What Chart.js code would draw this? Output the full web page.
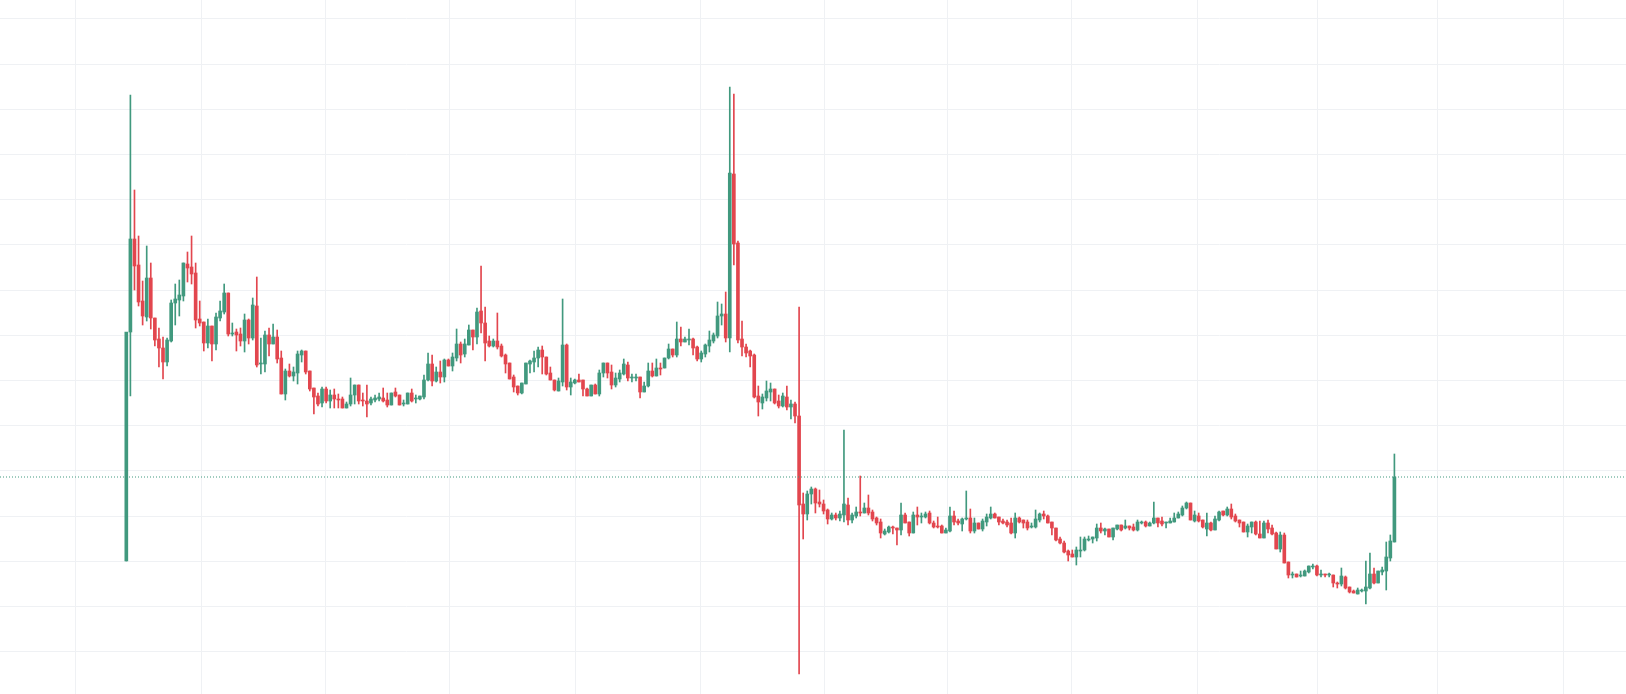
<!DOCTYPE html>
<html>
<head>
<meta charset="utf-8">
<script src="https://cdn.jsdelivr.net/npm/chart.js@4.4.3/dist/chart.umd.min.js"></script>
<style>
  html, body { margin: 0; padding: 0; background: #ffffff; }
  #wrap { width: 1626px; height: 694px; position: relative; }
</style>
</head>
<body>
<div id="wrap"><canvas id="chart"></canvas></div>
<script>
// OHLC per candle
const opens = [1.33,3.62,4.55,4.29,3.93,3.77,4.16,3.76,3.55,3.46,3.32,3.53,3.91,3.94,3.98,4.30,4.27,4.21,3.75,3.72,3.51,3.68,3.50,3.76,3.82,4.01,3.60,3.62,3.60,3.53,3.74,3.56,3.88,3.30,3.30,3.59,3.50,3.57,3.36,3.00,3.23,3.18,3.21,3.39,3.43,3.23,
  3.06,2.98,2.91,3.05,2.93,2.99,2.95,2.95,2.86,2.90,2.99,3.09,2.94,2.93,2.91,2.94,2.95,2.96,2.94,2.89,3.02,2.99,2.90,2.90,3.01,2.95,2.95,2.97,
  3.14,3.30,3.13,3.22,3.17,3.34,3.28,3.36,3.50,3.40,3.49,3.64,3.57,3.83,3.71,3.53,3.48,3.53,3.48,3.39,3.31,3.17,3.08,3.01,3.10,3.30,3.32,3.36,3.44,
  3.37,3.21,3.14,3.03,3.12,3.49,3.07,3.11,3.14,3.14,3.05,2.98,3.09,3.00,3.21,3.31,3.22,3.09,3.15,3.20,3.29,3.16,3.16,3.17,3.02,3.08,3.23,3.18,3.26,3.26,3.36,3.45,3.39,3.55,3.52,
  3.54,3.55,3.47,3.35,3.40,3.48,3.53,3.58,3.78,3.80,3.56,5.20,4.51,3.55,3.47,3.43,3.39,2.98,2.91,2.96,3.02,3.05,2.93,2.88,2.97,2.87,2.90,2.78,1.90,1.80,2.00,2.05,1.92,1.90,1.84,1.75,1.79,1.76,1.79,1.89,1.74,1.78,1.82,
  1.81,1.86,1.82,1.76,1.72,1.60,1.62,1.67,1.66,1.64,1.79,1.72,1.61,1.79,1.77,1.77,1.81,1.71,1.68,1.68,1.61,1.63,1.78,1.73,1.70,1.75,1.76,1.63,
  1.71,1.65,1.72,1.76,1.80,1.77,1.73,1.72,1.71,1.61,1.76,1.74,1.72,1.67,1.67,1.74,1.80,1.78,1.72,1.66,1.55,1.51,1.43,1.40,1.37,1.43,1.44,1.54,
  1.55,1.56,1.66,1.63,1.65,1.57,1.65,1.69,1.66,1.68,1.67,1.64,1.71,1.72,1.68,1.71,1.76,1.73,1.71,1.71,1.72,1.76,1.79,1.86,1.91,1.73,1.78,1.74,
  1.65,1.71,1.64,1.74,1.83,1.79,1.85,1.78,1.74,1.72,1.62,1.67,1.72,1.60,1.56,1.71,1.66,1.61,1.45,1.59,1.32,1.19,1.20,1.18,1.18,1.22,1.27,1.28,
  1.19,1.20,1.19,1.19,1.11,1.10,1.17,1.07,1.03,1.00,1.03,1.03,1.06,1.20,1.11,1.22,1.23,1.36,1.52];
const highs = [1.33,5.99,5.04,4.58,4.13,4.48,4.31,3.76,3.66,3.57,3.56,3.94,4.10,4.14,4.31,4.42,4.58,4.31,3.93,3.72,3.75,3.68,3.81,3.93,4.10,4.01,3.71,3.65,3.66,3.80,3.75,3.96,4.17,3.56,3.63,3.66,3.70,3.64,3.43,3.25,3.30,3.27,3.43,3.44,3.43,3.23,
  3.06,3.01,3.07,3.07,3.04,3.05,3.00,2.97,2.92,3.16,3.09,3.09,3.01,3.09,2.97,2.99,3.01,3.06,3.01,3.01,3.06,2.99,2.94,3.01,3.05,2.99,2.98,3.19,
  3.41,3.39,3.27,3.33,3.35,3.35,3.41,3.65,3.52,3.55,3.69,3.64,3.86,4.28,3.87,3.58,3.55,3.81,3.50,3.40,3.31,3.19,3.08,3.11,3.31,3.34,3.43,3.47,3.48,
  3.37,3.27,3.14,3.16,3.95,3.50,3.16,3.15,3.20,3.14,3.06,3.09,3.10,3.24,3.31,3.31,3.29,3.21,3.24,3.35,3.32,3.20,3.20,3.17,3.12,3.31,3.31,3.35,3.31,3.36,3.50,3.45,3.72,3.67,3.57,
  3.65,3.56,3.48,3.43,3.50,3.63,3.61,3.92,3.90,4.02,6.07,6.00,4.53,3.73,3.50,3.44,3.40,3.08,3.00,3.13,3.11,3.05,2.99,3.01,3.08,2.94,2.92,3.87,2.01,2.03,2.07,2.06,2.04,1.94,1.85,1.81,1.81,1.83,2.64,1.96,1.81,1.87,2.18,
  1.91,1.99,1.84,1.77,1.75,1.65,1.68,1.68,1.66,1.91,1.81,1.72,1.82,1.87,1.81,1.82,1.83,1.73,1.77,1.69,1.66,1.87,1.83,1.75,1.76,2.03,1.85,1.76,
  1.71,1.75,1.80,1.87,1.81,1.77,1.75,1.74,1.76,1.81,1.77,1.74,1.74,1.71,1.84,1.81,1.83,1.79,1.72,1.66,1.57,1.53,1.44,1.44,1.47,1.57,1.57,1.58,
  1.57,1.70,1.71,1.66,1.65,1.66,1.69,1.69,1.74,1.68,1.70,1.74,1.73,1.73,1.72,1.92,1.76,1.77,1.72,1.76,1.81,1.82,1.88,1.92,1.91,1.83,1.81,1.74,
  1.81,1.72,1.78,1.83,1.83,1.87,1.90,1.80,1.74,1.72,1.70,1.72,1.73,1.73,1.73,1.74,1.69,1.62,1.62,1.61,1.32,1.22,1.20,1.23,1.24,1.28,1.30,1.29,
  1.24,1.20,1.21,1.19,1.12,1.26,1.18,1.07,1.04,1.06,1.05,1.33,1.41,1.26,1.23,1.27,1.52,1.59,2.40];
const lows = [1.33,2.98,4.04,3.88,3.69,3.73,3.65,3.48,3.27,3.15,3.28,3.52,3.69,3.78,3.93,4.12,4.10,3.66,3.68,3.43,3.46,3.33,3.44,3.73,3.80,3.58,3.58,3.43,3.48,3.42,3.50,3.54,3.27,3.20,3.22,3.38,3.50,3.31,3.00,2.94,3.17,3.13,3.10,3.32,3.20,3.03,
  2.80,2.88,2.87,2.91,2.86,2.86,2.86,2.86,2.86,2.88,2.90,2.90,2.88,2.77,2.89,2.92,2.93,2.92,2.87,2.89,2.97,2.89,2.88,2.90,2.92,2.91,2.94,2.95,
  3.13,3.08,3.12,3.11,3.12,3.28,3.23,3.33,3.31,3.37,3.49,3.44,3.50,3.61,3.33,3.47,3.47,3.45,3.37,3.21,3.15,3.02,2.99,3.00,3.10,3.21,3.22,3.27,3.20,
  3.19,3.14,3.03,3.03,3.08,3.04,2.99,3.10,3.12,2.98,2.98,2.98,3.00,2.98,3.17,3.16,3.05,3.07,3.12,3.19,3.13,3.12,3.13,2.96,3.02,3.07,3.17,3.18,3.19,3.26,3.35,3.37,3.37,3.48,3.52,
  3.49,3.39,3.33,3.32,3.37,3.42,3.51,3.56,3.69,3.52,3.42,4.29,3.51,3.38,3.37,3.27,2.96,2.78,2.85,2.93,2.93,2.90,2.86,2.87,2.84,2.75,2.71,0.20,1.55,1.74,1.90,1.81,1.87,1.80,1.70,1.74,1.74,1.73,1.72,1.69,1.71,1.76,1.78,
  1.81,1.79,1.73,1.69,1.56,1.59,1.61,1.60,1.49,1.59,1.71,1.58,1.61,1.69,1.71,1.76,1.70,1.66,1.66,1.61,1.61,1.62,1.69,1.69,1.63,1.74,1.61,1.61,
  1.65,1.63,1.68,1.75,1.76,1.69,1.70,1.67,1.60,1.56,1.71,1.66,1.64,1.66,1.66,1.72,1.75,1.71,1.59,1.53,1.50,1.41,1.33,1.37,1.29,1.37,1.43,1.53,
  1.51,1.53,1.61,1.59,1.57,1.54,1.64,1.63,1.65,1.64,1.63,1.63,1.70,1.67,1.68,1.70,1.67,1.68,1.66,1.71,1.72,1.76,1.78,1.85,1.74,1.72,1.72,1.66,
  1.58,1.63,1.64,1.73,1.78,1.78,1.75,1.72,1.67,1.62,1.57,1.61,1.59,1.56,1.56,1.61,1.59,1.45,1.42,1.31,1.16,1.16,1.17,1.17,1.18,1.21,1.25,1.18,
  1.17,1.17,1.17,1.07,1.06,1.08,1.05,1.01,1.01,1.00,1.02,0.90,1.05,1.10,1.11,1.19,1.04,1.33,1.52];
const closes = [3.62,4.55,4.28,3.92,3.78,4.16,3.76,3.54,3.46,3.32,3.54,3.91,3.95,3.99,4.31,4.26,4.20,3.74,3.71,3.51,3.68,3.50,3.77,3.83,4.01,3.60,3.61,3.59,3.53,3.74,3.56,3.89,3.29,3.31,3.59,3.50,3.57,3.35,3.00,3.23,3.18,3.22,3.40,3.43,3.22,3.05,
  2.97,2.90,3.05,2.93,2.99,2.95,2.94,2.86,2.90,2.99,3.09,2.93,2.93,2.90,2.95,2.96,2.97,2.93,2.89,3.01,2.98,2.89,2.91,3.01,2.93,2.96,2.98,3.14,
  3.30,3.13,3.22,3.17,3.34,3.28,3.37,3.50,3.39,3.50,3.64,3.57,3.82,3.71,3.51,3.48,3.53,3.47,3.38,3.30,3.15,3.07,3.01,3.11,3.31,3.33,3.36,3.44,3.37,
  3.20,3.14,3.04,3.13,3.49,3.07,3.12,3.14,3.12,3.05,2.98,3.09,3.00,3.21,3.31,3.21,3.09,3.16,3.21,3.30,3.16,3.17,3.17,3.02,3.08,3.23,3.18,3.26,3.25,3.36,3.45,3.39,3.55,3.52,3.55,
  3.55,3.46,3.35,3.41,3.49,3.54,3.59,3.78,3.80,3.56,5.21,4.50,3.54,3.47,3.41,3.38,2.97,2.92,2.97,3.03,3.05,2.91,2.88,2.98,2.87,2.90,2.78,1.89,1.80,2.00,2.05,1.91,1.90,1.83,1.75,1.79,1.76,1.80,1.90,1.74,1.79,1.82,1.81,
  1.86,1.81,1.75,1.71,1.61,1.63,1.67,1.66,1.64,1.79,1.71,1.61,1.79,1.77,1.78,1.80,1.71,1.67,1.67,1.61,1.64,1.78,1.72,1.71,1.75,1.76,1.63,1.71,
  1.65,1.73,1.77,1.80,1.76,1.72,1.71,1.69,1.61,1.76,1.72,1.71,1.66,1.68,1.75,1.80,1.78,1.71,1.66,1.54,1.51,1.42,1.39,1.37,1.44,1.44,1.55,1.55,
  1.57,1.66,1.63,1.65,1.57,1.66,1.69,1.64,1.68,1.66,1.64,1.72,1.72,1.68,1.71,1.76,1.71,1.70,1.72,1.73,1.76,1.80,1.86,1.91,1.74,1.79,1.73,1.67,
  1.71,1.64,1.75,1.82,1.79,1.85,1.77,1.73,1.71,1.62,1.68,1.72,1.60,1.56,1.71,1.65,1.60,1.45,1.59,1.31,1.19,1.20,1.17,1.19,1.23,1.28,1.28,1.19,
  1.20,1.19,1.20,1.11,1.10,1.18,1.06,1.02,1.01,1.04,1.04,1.07,1.20,1.11,1.23,1.24,1.37,1.53,2.17];

// grid positions: candle index for vertical lines, price for horizontal lines
const timeGridTicks = [2.94, 33.77, 63.87, 94.68, 125.68, 155.9, 186.34, 216.33, 247.24, 278.14, 306.1, 337.06];
const priceGridTicks = [6.751, 6.299, 5.847, 5.395, 4.943, 4.491, 4.039, 3.587, 3.135, 2.683, 2.231, 1.779, 1.327, 0.875, 0.423];
const lastPrice = 2.17;

const UP = '#41997e';
const DOWN = '#e2464e';
const xMin = -30.98, xMax = 367.8;

const colors = opens.map((o, i) => (closes[i] >= o ? UP : DOWN));
const bodies = opens.map((o, i) => ({ x: i, y: [o, closes[i]] }));
const wicks = opens.map((o, i) => ({ x: i, y: [lows[i], highs[i]] }));

new Chart(document.getElementById('chart'), {
    data: {
        datasets: [
            {
                type: 'bar',
                data: wicks,
                backgroundColor: colors,
                barThickness: 1,
                grouped: false,
                borderWidth: 0,
                minBarLength: 1,
                order: 2,
            },
            {
                type: 'bar',
                data: bodies,
                backgroundColor: colors,
                barThickness: 3,
                grouped: false,
                borderWidth: 0,
                minBarLength: 1,
                order: 1,
            },
            {
                type: 'line',
                data: [{ x: xMin, y: lastPrice }, { x: xMax, y: lastPrice }],
                borderColor: UP,
                borderWidth: 1,
                borderDash: [1, 2],
                pointRadius: 0,
                order: 0,
            },
        ],
    },
    options: {
        responsive: true,
        maintainAspectRatio: false,
        animation: false,
        layout: { padding: 0 },
        plugins: { legend: { display: false }, tooltip: { enabled: false } },
        scales: {
            x: {
                type: 'linear',
                min: xMin,
                max: xMax,
                offset: false,
                ticks: { display: false },
                border: { display: false },
                grid: { color: '#eff1f4', drawTicks: false },
                afterBuildTicks: (s) => { s.ticks = timeGridTicks.map((v) => ({ value: v })); },
                afterFit: (s) => { s.height = 0; },
            },
            y: {
                type: 'linear',
                min: 0,
                max: 6.94,
                ticks: { display: false },
                border: { display: false },
                grid: { color: '#eff1f4', drawTicks: false },
                afterBuildTicks: (s) => { s.ticks = priceGridTicks.map((v) => ({ value: v })); },
                afterFit: (s) => { s.width = 0; },
            },
        },
    },
});
</script>
</body>
</html>
